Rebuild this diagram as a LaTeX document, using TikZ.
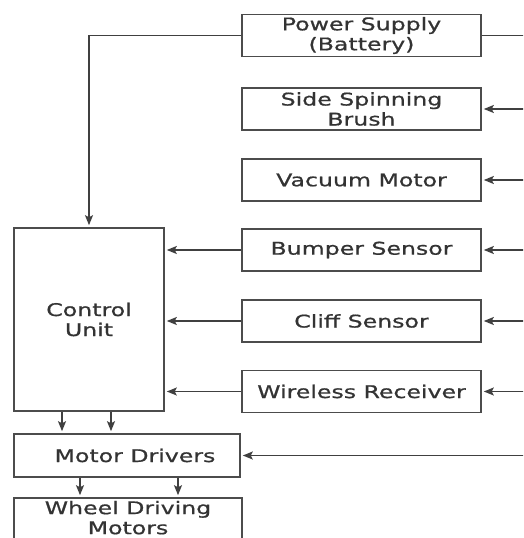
\documentclass[tikz,border=0pt]{standalone}
\usepackage{fontspec}
\setmainfont[FakeStretch=1.35,FakeBold=0.8]{DejaVu Sans}
\usepackage{tikz}
\usetikzlibrary{arrows.meta}
\tikzset{
    block/.style = {rectangle, draw=black!70, line width=1.6pt, align=center, inner sep=0pt, text=black!80, minimum width=239pt, minimum height=42pt, font=\fontsize{17.5}{20}\selectfont},
    link/.style = {draw=black!75, line width=1.5pt, shorten >=2pt}
}

\begin{document}
\begin{tikzpicture}
    [x=1pt, y=-1pt, >={Stealth[length=10pt, width=8pt, inset=2pt]}]
    \useasboundingbox (0,0) rectangle (523,538);
    \clip (0,0) rectangle (523,538);

    % right column
    \node [block] (power) at (361.5,35.5) {Power Supply\\(Battery)};
    \node [block] (brush) at (361.5,109) {Side Spinning\\Brush};
    \node [block] (vacuum) at (361.5,180) {Vacuum Motor};
    \node [block] (bumper) at (361.5,250) {Bumper Sensor};
    \node [block] (cliff) at (361.5,321) {Cliff Sensor};
    \node [block] (wireless) at (361.5,391.5) {Wireless Receiver};

    % left column
    \node [block, minimum width=150pt, minimum height=183pt] (control) at (89,319.5) {Control\\Unit};
    \node [block, minimum width=226pt, minimum height=43pt] (drivers) at (127,455.5) {\hspace{16pt}Motor Drivers};
    \node [block, minimum width=228pt, minimum height=46pt, text depth=7pt] (wheels) at (128,521) {Wheel Driving\\Motors};

    % bus on the right
    \coordinate (bus) at (530,0);

    \draw [link, ->] (power.west) -| (control.north);
    \draw [link] (power.east) -- (power.east -| bus);
    \draw [link, <-, shorten <=2pt, shorten >=0pt] (brush.east) -- (brush.east -| bus);
    \draw [link, <-, shorten <=2pt, shorten >=0pt] (vacuum.east) -- (vacuum.east -| bus);
    \draw [link, <-, shorten <=2pt, shorten >=0pt] (bumper.east) -- (bumper.east -| bus);
    \draw [link, <-, shorten <=2pt, shorten >=0pt] (cliff.east) -- (cliff.east -| bus);
    \draw [link, <-, shorten <=2pt, shorten >=0pt] (wireless.east) -- (wireless.east -| bus);
    \draw [link, <-, shorten <=2pt, shorten >=0pt] (drivers.east) -- (drivers.east -| bus);

    \draw [link, ->] (bumper.west) -- (bumper.west -| control.east);
    \draw [link, ->] (cliff.west) -- (cliff.west -| control.east);
    \draw [link, ->] (wireless.west) -- (wireless.west -| control.east);

    \draw [link, ->] ([xshift=-27pt]control.south) -- ([xshift=-27pt]control.south |- drivers.north);
    \draw [link, ->] ([xshift=22pt]control.south) -- ([xshift=22pt]control.south |- drivers.north);
    \draw [link, ->] ([xshift=-47pt]drivers.south) -- ([xshift=-47pt]drivers.south |- wheels.north);
    \draw [link, ->] ([xshift=51pt]drivers.south) -- ([xshift=51pt]drivers.south |- wheels.north);
\end{tikzpicture}
\end{document}
